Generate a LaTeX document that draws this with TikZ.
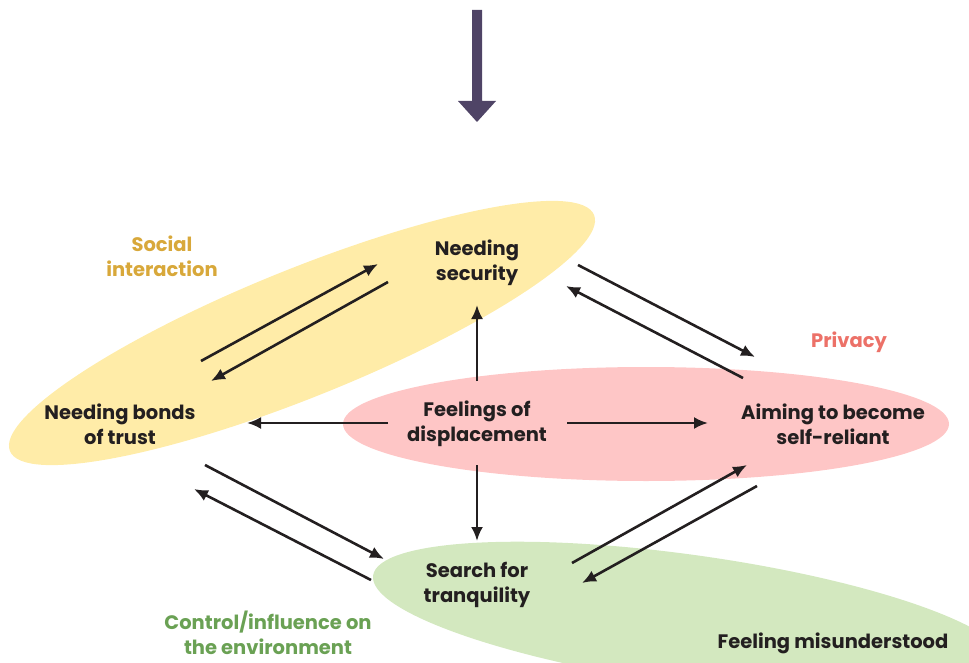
\documentclass[tikz,border=0pt]{standalone}
\usepackage{fontspec}
\setmainfont{Poppins}
\usetikzlibrary{arrows.meta}
\definecolor{txt}{HTML}{231F20}
\definecolor{yell}{HTML}{FFECA8}
\definecolor{pinkf}{HTML}{FEC6C6}
\definecolor{greenf}{HTML}{D3E8BF}
\definecolor{socialc}{HTML}{D8A83A}
\definecolor{privc}{HTML}{EC7168}
\definecolor{ctrlc}{HTML}{6AA154}
\definecolor{purp}{HTML}{4F4466}
\tikzset{
  lbl/.style={font=\bfseries\fontsize{19.5}{25}\selectfont, text=txt, align=center, inner sep=0pt},
  cat/.style={font=\bfseries\fontsize{19.5}{25}\selectfont, align=center, inner sep=0pt},
  arr/.style={draw=txt, line width=2.6pt, -{Latex[length=14pt,width=12pt]}},
}
\begin{document}
\begin{tikzpicture}[x=1pt,y=-1pt]
\useasboundingbox (0,0) rectangle (969,663);
\begin{scope}
\clip (0,0) rectangle (969,663);
\fill[yell, rotate around={22:(302,333)}] (302,333) ellipse [x radius=315pt, y radius=64pt];
\fill[pinkf] (646,424) ellipse [x radius=303pt, y radius=57pt];
\fill[greenf, rotate around={-8:(690,620)}] (690,620) ellipse [x radius=320pt, y radius=65pt];
\end{scope}
% top arrow
\fill[purp] (472,10) -- (482,10) -- (482,101) -- (496,101) -- (477,122) -- (458,101) -- (472,101) -- cycle;
% nodes
\node[lbl] (ns) at (477,263) {Needing\\security};
\node[lbl] (nb) at (120,424) {Needing bonds\\of trust};
\node[lbl] (fd) at (477,424) {Feelings of\\displacement};
\node[lbl] (ai) at (833,424) {Aiming to become\\self-reliant};
\node[lbl] (st) at (477,585) {Search for\\tranquility};
\node[lbl] (fm) at (833,643) {Feeling misunderstood};
\node[cat, text=socialc] (si) at (162,256) {Social\\interaction};
\node[cat, text=privc] (pr) at (849,342) {Privacy};
\node[cat, text=ctrlc] (ce) at (268,633) {Control/influence on\\the environment};
% arrow end coordinates
\coordinate (fdN) at (477,381); \coordinate (nsS) at (477,305);
\coordinate (fdW) at (388,423); \coordinate (nbE) at (247,423);
\coordinate (fdE) at (567,423); \coordinate (aiW) at (708,423);
\coordinate (fdS) at (477,465); \coordinate (stN) at (477,541);
\coordinate (nbA) at (201,361); \coordinate (nsA) at (378,264);
\coordinate (nsB) at (388,282); \coordinate (nbB) at (211,381);
\coordinate (nsC) at (578,265); \coordinate (aiC) at (755,357);
\coordinate (aiD) at (743,378); \coordinate (nsD) at (566,286);
\coordinate (nbE2) at (205,465); \coordinate (stE) at (384,559);
\coordinate (stF) at (371,580); \coordinate (nbF) at (194,489);
\coordinate (stG) at (572,563); \coordinate (aiG) at (747,465);
\coordinate (aiH) at (757,486); \coordinate (stH) at (582,583);
\draw[arr] (fdN) -- (nsS);
\draw[arr] (fdW) -- (nbE);
\draw[arr] (fdE) -- (aiW);
\draw[arr] (fdS) -- (stN);
\draw[arr] (nbA) -- (nsA);
\draw[arr] (nsB) -- (nbB);
\draw[arr] (nsC) -- (aiC);
\draw[arr] (aiD) -- (nsD);
\draw[arr] (nbE2) -- (stE);
\draw[arr] (stF) -- (nbF);
\draw[arr] (stG) -- (aiG);
\draw[arr] (aiH) -- (stH);
\end{tikzpicture}
\end{document}
